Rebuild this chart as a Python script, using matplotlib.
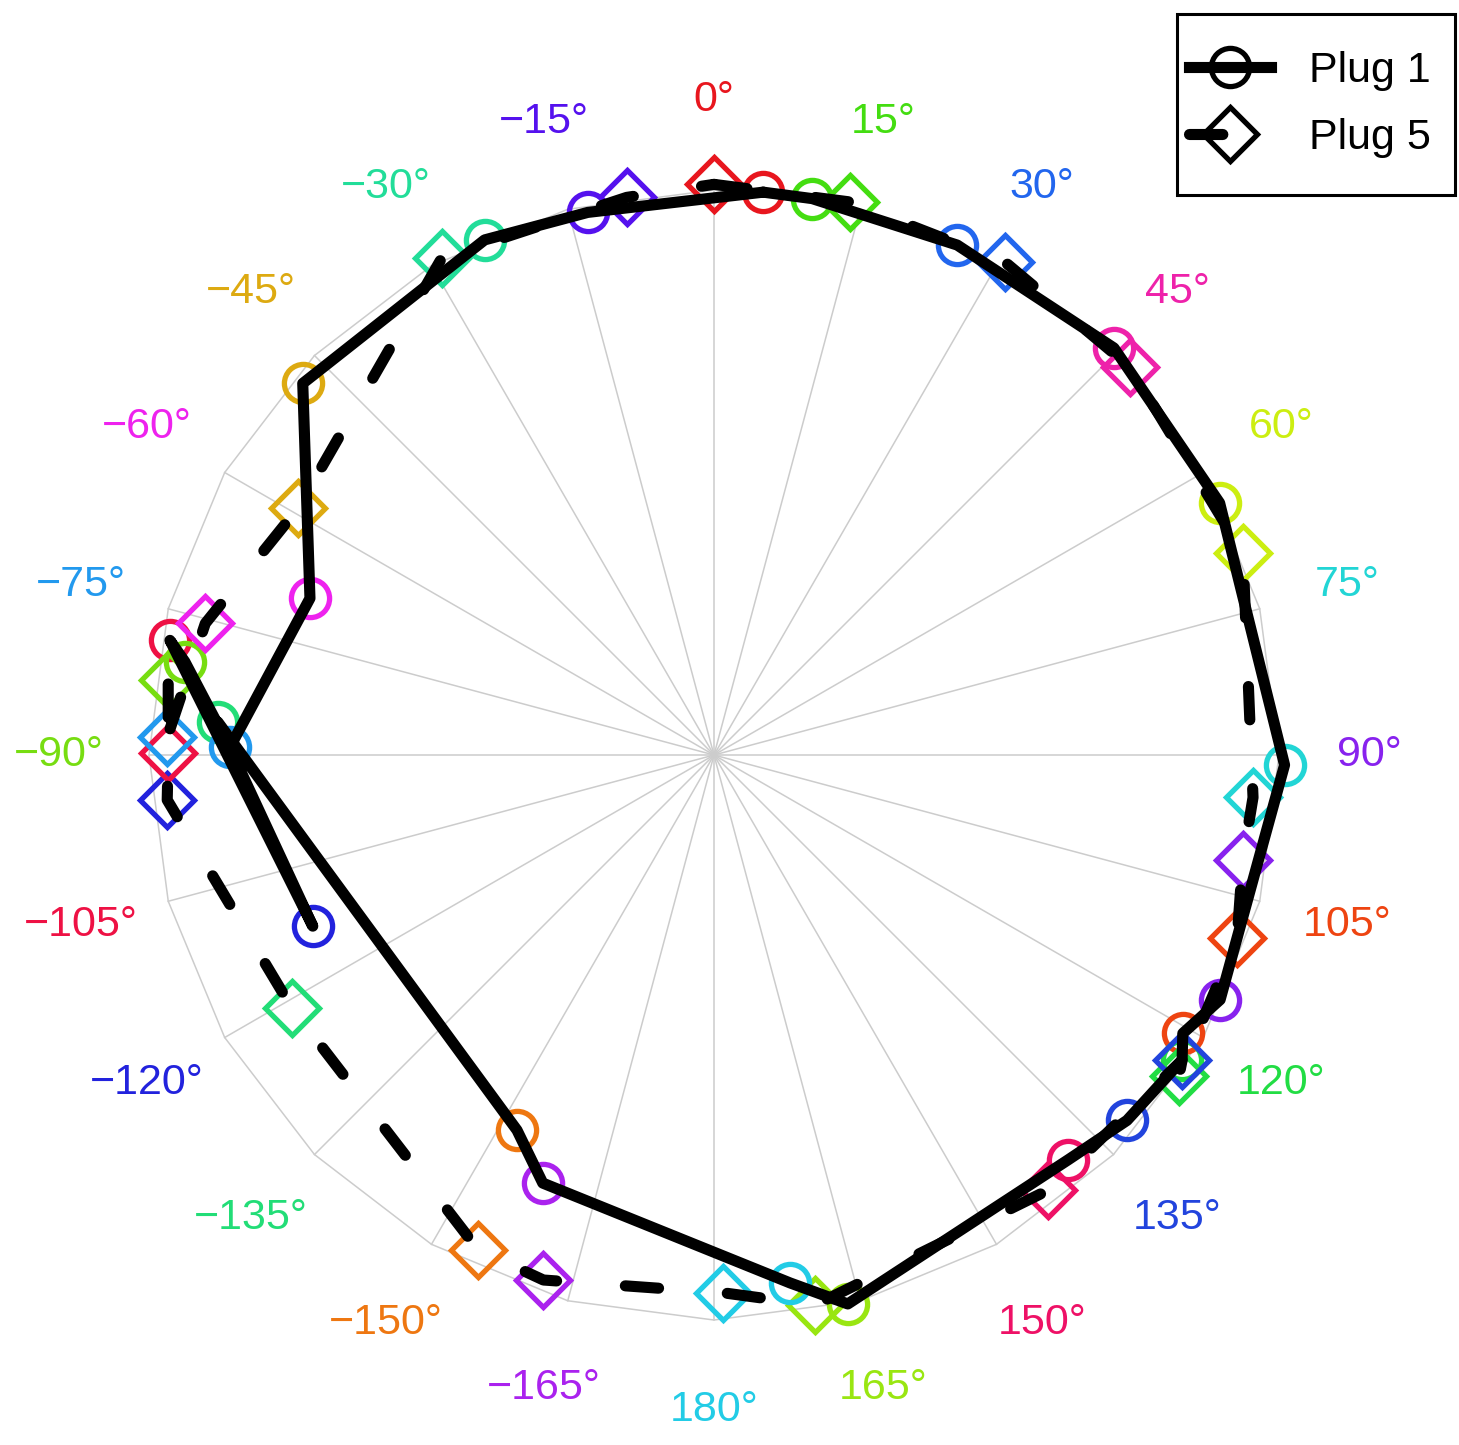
import numpy as np
import matplotlib.pyplot as plt
from matplotlib.lines import Line2D
from matplotlib.patches import Rectangle

plt.rcParams['font.family'] = ['Liberation Sans', 'DejaVu Sans']

# nominal angles, one colour each
angles = [0, 15, 30, 45, 60, 75, 90, 105, 120, 135, 150, 165, 180,
          -165, -150, -135, -120, -105, -90, -75, -60, -45, -30, -15]

# measured direction (deg, clockwise from top) and normalised radius
plug1_theta = [5.0, 10.0, 25.5, 44.5, 63.5, 91.0, 115.8, 120.7, 123.1, 131.5, 138.8, 166.3, 171.8,
               201.8, 207.7, 273.8, 246.9, 281.9, 280.0, 270.9, 291.2, 312.1, 336.0, 346.9]
plug1_r = [1.00, 1.00, 1.00, 1.01, 1.00, 1.01, 0.995, 0.965, 0.989, 0.976, 0.952, 1.00, 0.944,
           0.816, 0.75, 0.88, 0.772, 0.984, 0.951, 0.857, 0.767, 0.981, 0.998, 0.986]

plug5_theta = [0.0, 13.8, 30.6, 47.0, 69.1, 94.5, 101.2, 109.3, 124.6, 123.1, 142.5, 169.6, 179.0,
               198.0, 205.5, 239.1, 265.3, 270.2, 277.8, 271.9, 284.5, 300.7, 331.3, 351.1]
plug5_r = [1.01, 1.008, 1.013, 1.007, 1.002, 0.957, 0.954, 0.981, 1.00, 0.989, 0.971, 0.99, 0.952,
           0.977, 0.97, 0.871, 0.971, 0.966, 0.975, 0.968, 0.93, 0.856, 1.003, 0.999]

colors = ['#e8161e', '#44dd11', '#2266ee', '#ee22aa', '#ccee11', '#22d5d5', '#8822ee',
          '#ee4411', '#22dd44', '#2244dd', '#ee1166', '#99e611', '#22cce6',
          '#aa22ee', '#ee7711', '#22dd77', '#2222dd', '#ee1144', '#77dd11', '#2299ee',
          '#ee22ee', '#ddaa11', '#22dd99', '#5511ee']


def to_xy(theta, r):
    t = np.radians(theta)
    return np.asarray(r) * np.sin(t), np.asarray(r) * np.cos(t)


fig = plt.figure(figsize=(14.59, 14.45), dpi=100)
ax = fig.add_axes([0, 0, 1, 1])
ax.set_xlim(-1.2637, 1.3186)
ax.set_ylim(-1.2212, 1.3363)
ax.axis('off')

grid_c = '#cccccc'
gx, gy = to_xy(np.array(angles + [angles[0]]), np.ones(len(angles) + 1))
ax.plot(gx, gy, color=grid_c, lw=1.1, zorder=1)
for a in angles:
    sx, sy = to_xy(np.array([a, a]), np.array([0, 1]))
    ax.plot(sx, sy, color=grid_c, lw=1.1, zorder=1)

for a, c in zip(angles, colors):
    lx, ly = to_xy(a, 1.16)
    ax.text(lx, ly, (str(a) + '°').replace('-', '\u2212'), color=c,
            ha='center', va='center', fontsize=31)

lw = 8.0
ms = 27.5
mew = 3.8
dash = (0, (3.0, 6.2))

x1, y1 = to_xy(np.array(plug1_theta), np.array(plug1_r))
x5, y5 = to_xy(np.array(plug5_theta), np.array(plug5_r))

for i, c in enumerate(colors):
    ax.plot(x1[i], y1[i], marker='o', ms=ms, mfc='none', mec=c, mew=mew, zorder=2)
    ax.plot(x5[i], y5[i], marker='D', ms=ms, mfc='none', mec=c, mew=mew, zorder=2)

ax.plot(np.append(x1, x1[0]), np.append(y1, y1[0]), color='k', lw=lw,
        solid_capstyle='round', solid_joinstyle='round', zorder=3)
ax.plot(np.append(x5, x5[0]), np.append(y5, y5[0]), color='k', lw=lw, ls=dash,
        dash_capstyle='round', zorder=3)

# legend box
fig.patches.append(Rectangle((1177 / 1459, 1 - 195 / 1445), 278 / 1459, 181 / 1445,
                             transform=fig.transFigure, fill=True, facecolor='white',
                             edgecolor='k', lw=2.2, zorder=4))

h1 = Line2D([], [], color='k', lw=lw, marker='o', ms=ms, mfc='none', mec='k', mew=mew)
h5 = Line2D([], [], color='k', lw=lw, ls=dash, dash_capstyle='round',
            marker='D', ms=ms, mfc='none', mec='k', mew=mew)
leg = fig.legend([h1, h5], ['Plug 1', 'Plug 5'], loc='center',
                 bbox_to_anchor=(1310 / 1459, 1 - 104.5 / 1445), fontsize=31,
                 handlelength=1.9, handletextpad=0.9, labelspacing=0.63,
                 borderpad=0.0, frameon=False)
leg.set_zorder(5)

fig.savefig('out.png', dpi=100)
